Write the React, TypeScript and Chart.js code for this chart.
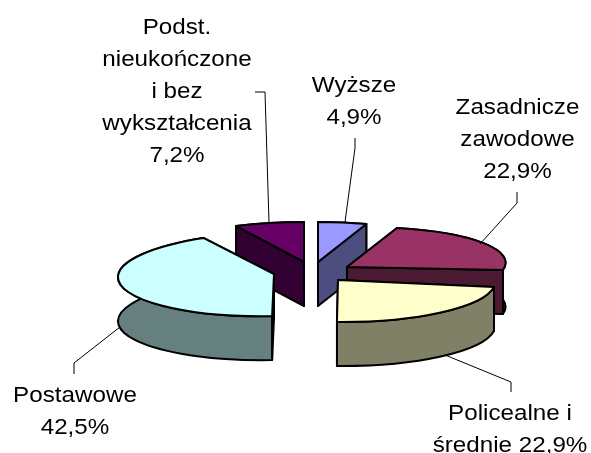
import React, { useEffect, useRef } from "react";
import { Chart, registerables } from "chart.js";

Chart.register(...registerables);

const categories = ["Wyższe", "Zasadnicze zawodowe", "Policealne i średnie", "Postawowe", "Podst. nieukończone i bez wykształcenia"];
const shares = [4.9, 22.9, 22.9, 42.5, 7.2];
const labelLines = [
  ["Wyższe", "4,9%"],
  ["Zasadnicze", "zawodowe", "22,9%"],
  ["Policealne i", "średnie 22,9%"],
  ["Postawowe", "42,5%"],
  ["Podst.", "nieukończone", "i bez", "wykształcenia", "7,2%"],
];
const topColors = ["#9999FF", "#993366", "#FFFFCC", "#CCFFFF", "#660066"];
const wallColors = ["#4D4D80", "#4D1A33", "#808066", "#668080", "#330033"];

// Exploded, tilted view of each slice: ellipse axes with slight shear, and where its apex lands.
const views = [
  { a: 160, b: 0, c: 0.4, d: 40, ox: 318, oy: 262 },
  { a: 158.6, b: -2.2, c: -3.7, d: 39.7, ox: 347, oy: 267 },
  { a: 157.6, b: 3.9, c: -0.1, d: 42, ox: 338, oy: 280 },
  { a: 156, b: 3, c: -4, d: 42, ox: 274, oy: 274 },
  { a: 156, b: 0, c: 0, d: 40, ox: 304, oy: 262 },
];
const paintOrder = [4, 0, 1, 3, 2];
const depth = 44;

const labelPlaces = [
  { x: 354, y: 92, step: 32 },
  { x: 517.5, y: 114, step: 32 },
  { x: 510, y: 419.5, step: 32.5 },
  { x: 75, y: 402, step: 32 },
  { x: 177, y: 33.5, step: 32 },
];
const leaders = [
  [[355, 138], [355, 148], [345, 222]],
  [[517, 192], [517, 203], [480, 244]],
  [[511, 392], [511, 382], [445, 355]],
  [[74, 374], [74, 363], [120, 327]],
  [[255, 92], [265, 92], [269, 222]],
];

const pie3d = {
  id: "pie3d",
  beforeDatasetsDraw(chart: any) {
    const ctx = chart.ctx as CanvasRenderingContext2D;
    const arcs = chart.getDatasetMeta(0).data;

    paintOrder.forEach((i) => {
      const p = arcs[i].getProps(["x", "y", "startAngle", "endAngle", "outerRadius"], true);
      const v = views[i];
      const R = p.outerRadius;
      const place = (dy = 0) => {
        ctx.translate(v.ox, v.oy + dy);
        ctx.transform(v.a / R, v.c / R, v.b / R, v.d / R, 0, 0);
        ctx.translate(-p.x, -p.y);
      };
      const pt = (ang: number) => ({
        x: v.ox + v.a * Math.cos(ang) + v.b * Math.sin(ang),
        y: v.oy + v.c * Math.cos(ang) + v.d * Math.sin(ang),
      });
      const s = pt(p.startAngle);
      const e = pt(p.endAngle);
      const m = pt((p.startAngle + p.endAngle) / 2);
      const paint = (fill: string) => {
        ctx.fillStyle = fill;
        ctx.strokeStyle = "#000";
        ctx.lineWidth = 2;
        ctx.lineJoin = "round";
        ctx.fill();
        ctx.stroke();
      };
      const quad = (c: { x: number; y: number }) => () => {
        ctx.beginPath();
        ctx.moveTo(v.ox, v.oy);
        ctx.lineTo(c.x, c.y);
        ctx.lineTo(c.x, c.y + depth);
        ctx.lineTo(v.ox, v.oy + depth);
        ctx.closePath();
        paint(wallColors[i]);
      };
      const strip = () => {
        ctx.beginPath();
        ctx.save();
        place();
        ctx.arc(p.x, p.y, R, p.startAngle, p.endAngle);
        ctx.restore();
        ctx.save();
        place(depth);
        ctx.arc(p.x, p.y, R, p.endAngle, p.startAngle, true);
        ctx.restore();
        ctx.closePath();
        paint(wallColors[i]);
      };
      const walls = [
        { key: (s.y + m.y + e.y) / 3, draw: strip },
        { key: (v.oy + s.y) / 2, draw: quad(s) },
        { key: (v.oy + e.y) / 2, draw: quad(e) },
      ].sort((u, w) => u.key - w.key);
      walls.forEach((w) => w.draw());

      ctx.beginPath();
      ctx.save();
      place();
      ctx.moveTo(p.x, p.y);
      ctx.arc(p.x, p.y, R, p.startAngle, p.endAngle);
      ctx.closePath();
      ctx.restore();
      paint(topColors[i]);
    });
    return false;
  },
  afterDraw(chart: any) {
    const ctx = chart.ctx as CanvasRenderingContext2D;
    ctx.save();
    ctx.strokeStyle = "#000";
    ctx.lineWidth = 1;
    leaders.forEach((line) => {
      ctx.beginPath();
      line.forEach(([x, y], k) => (k ? ctx.lineTo(x, y) : ctx.moveTo(x, y)));
      ctx.stroke();
    });
    ctx.fillStyle = "#000";
    ctx.font = '22px "Liberation Sans", Arial, sans-serif';
    ctx.textAlign = "center";
    ctx.textBaseline = "alphabetic";
    labelLines.forEach((lines, i) => {
      lines.forEach((t, k) => {
        ctx.save();
        ctx.translate(labelPlaces[i].x, labelPlaces[i].y + k * labelPlaces[i].step);
        ctx.scale(1.1, 1);
        ctx.fillText(t, 0, 0);
        ctx.restore();
      });
    });
    ctx.restore();
  },
};

export default function App() {
  const ref = useRef<HTMLCanvasElement>(null);
  useEffect(() => {
    document.body.style.margin = "0";
    document.body.style.background = "#fff";
    const chart = new Chart(ref.current!, {
      type: "pie",
      data: {
        labels: categories,
        datasets: [{ data: shares, backgroundColor: topColors, borderColor: "#000", borderWidth: 2 }],
      },
      options: {
        responsive: false,
        animation: false,
        plugins: { legend: { display: false }, tooltip: { enabled: false } },
      },
      plugins: [pie3d],
    } as any);
    return () => chart.destroy();
  }, []);
  return <canvas ref={ref} width={591} height={453} style={{ display: "block" }} />;
}
